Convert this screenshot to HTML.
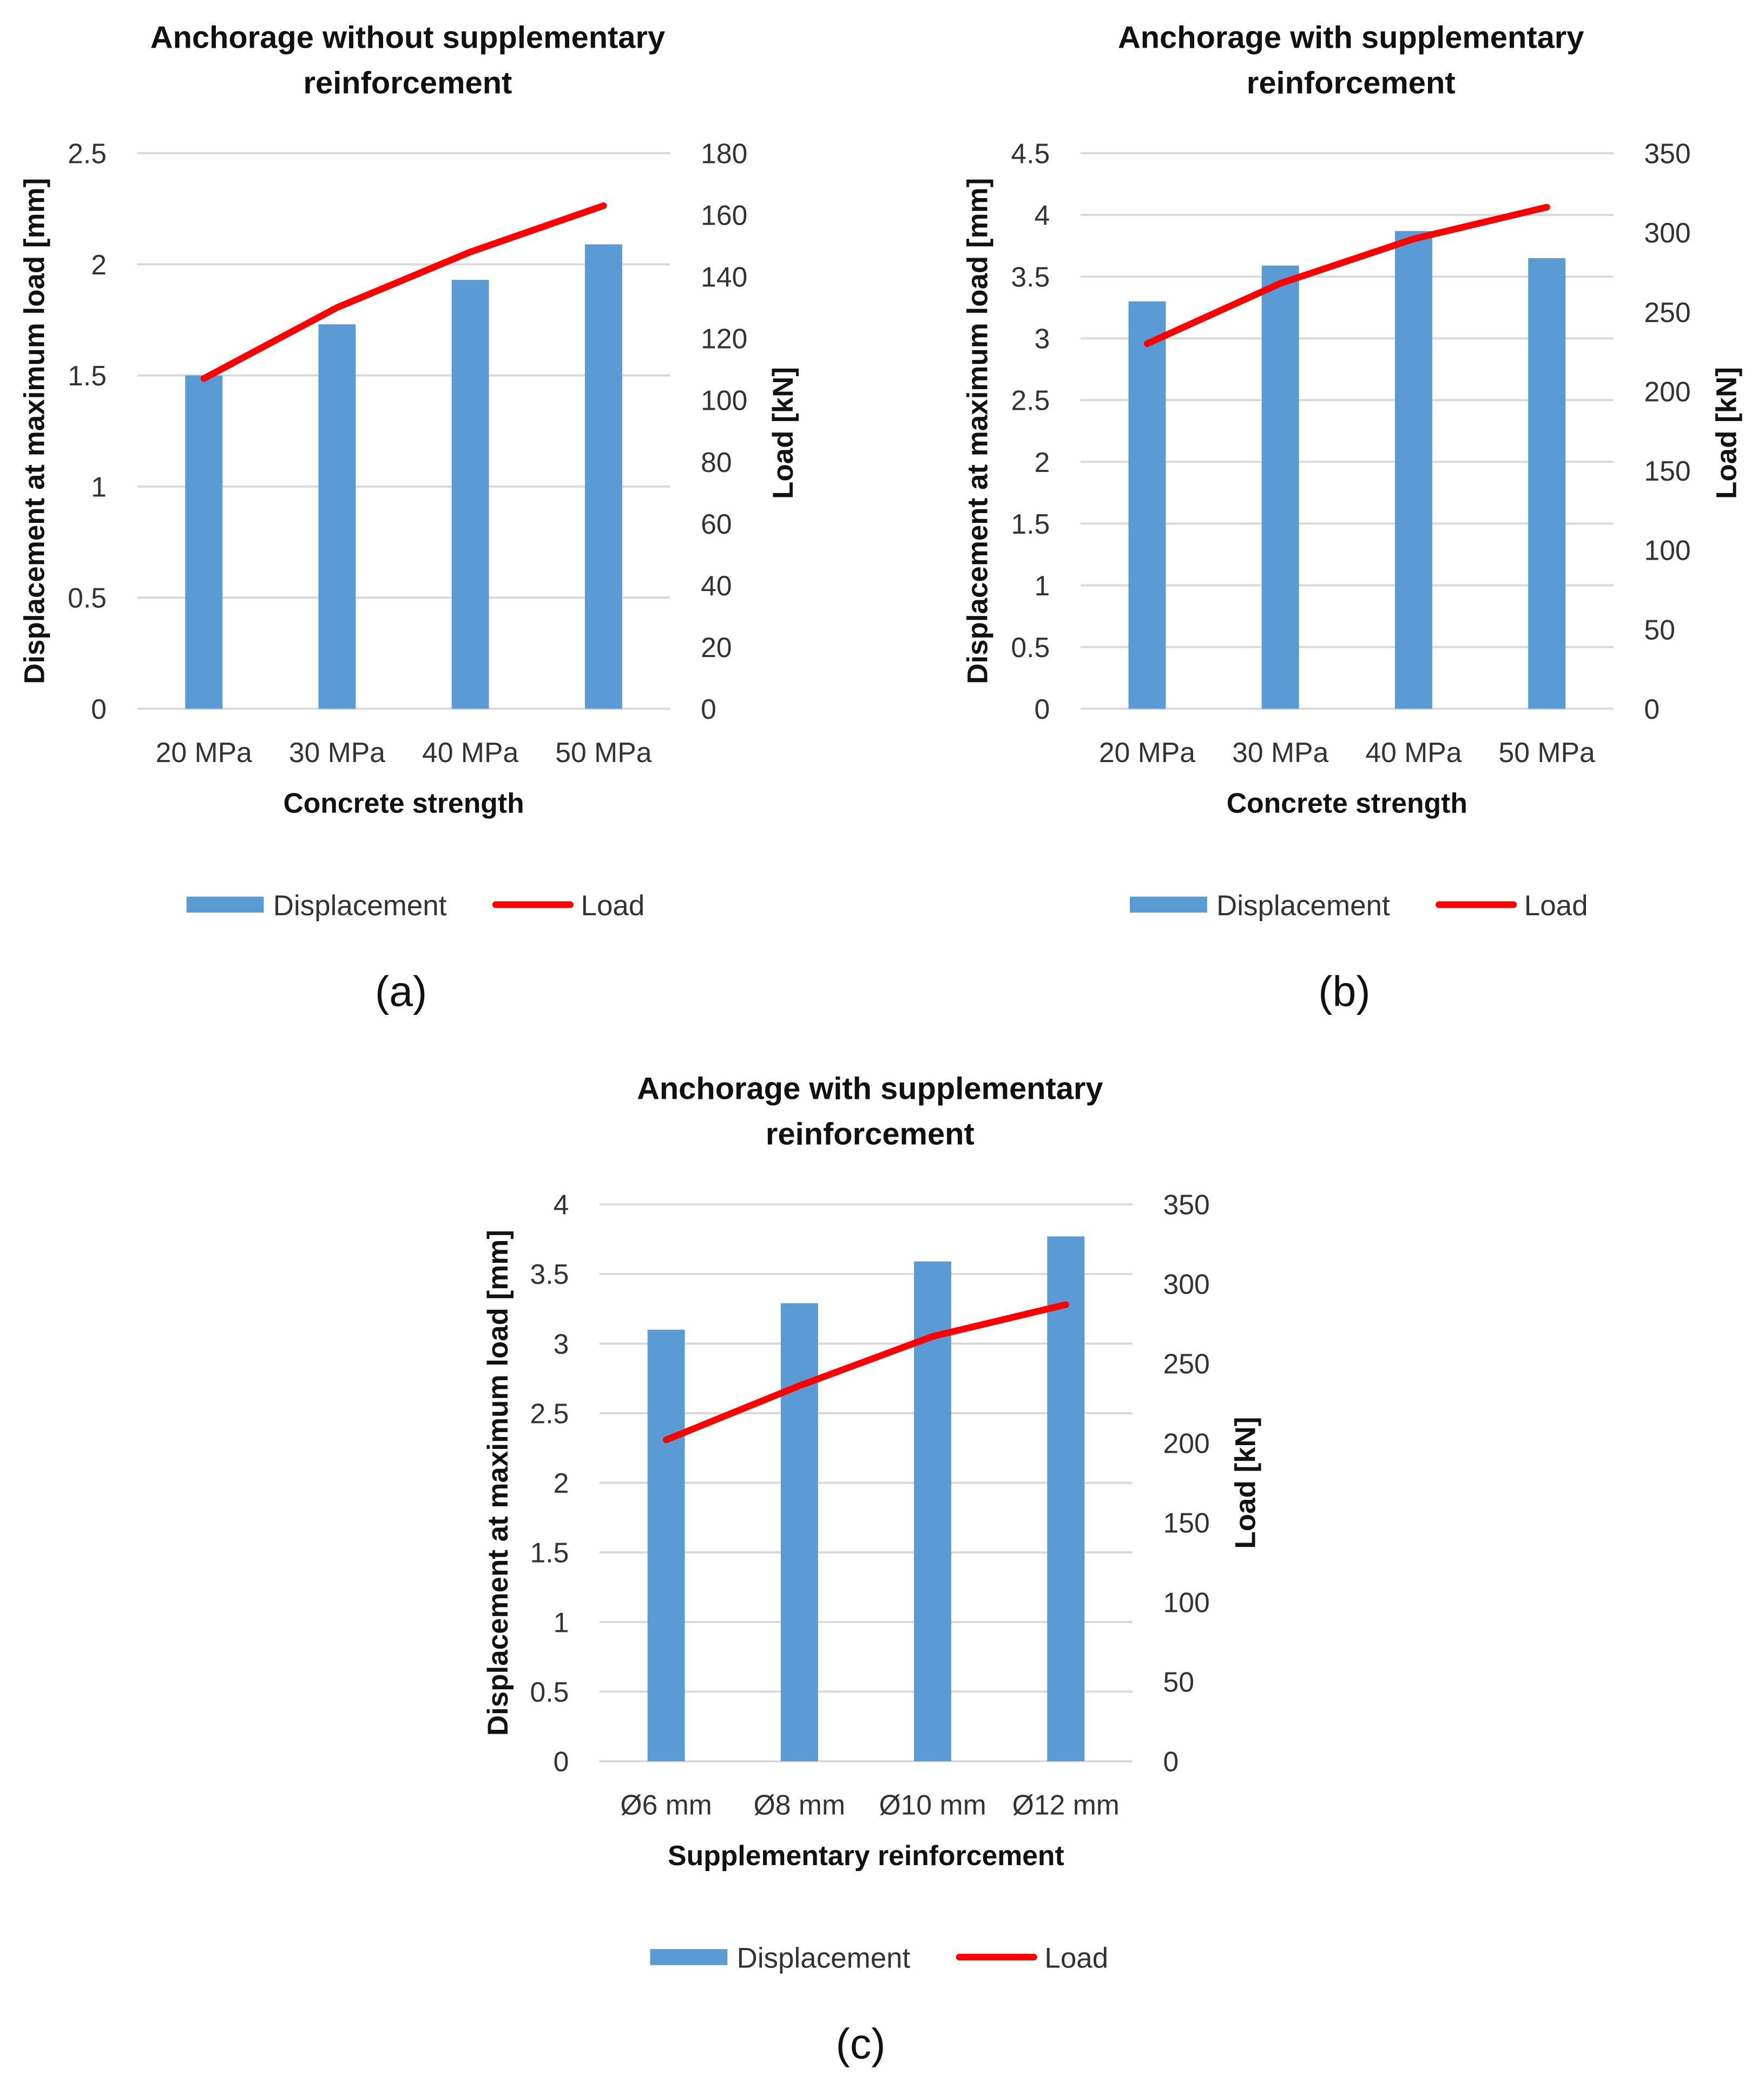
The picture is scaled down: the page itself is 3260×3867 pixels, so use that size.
<!DOCTYPE html>
<html><head><meta charset="utf-8"><style>
html,body{margin:0;padding:0;background:#fff}
svg{display:block}
text{font-family:"Liberation Sans",sans-serif}
</style></head><body>
<svg id="fig" width="3260" height="3867" viewBox="0 0 1324 1571" preserveAspectRatio="none" xmlns="http://www.w3.org/2000/svg"></svg>
<script>
// Chart (a)
const catsA = ["20 MPa","30 MPa","40 MPa","50 MPa"];
const dispA = [1.5, 1.73, 1.93, 2.09];
const loadA = [107, 130, 148, 163];
const leftTicksA = [0,0.5,1,1.5,2,2.5];
const rightTicksA = [0,20,40,60,80,100,120,140,160,180];
// Chart (b)
const catsB = ["20 MPa","30 MPa","40 MPa","50 MPa"];
const dispB = [3.3, 3.59, 3.87, 3.65];
const loadB = [230, 268, 296, 316];
const leftTicksB = [0,0.5,1,1.5,2,2.5,3,3.5,4,4.5];
const rightTicksB = [0,50,100,150,200,250,300,350];
// Chart (c)
const catsC = ["Ø6 mm","Ø8 mm","Ø10 mm","Ø12 mm"];
const dispC = [3.1, 3.29, 3.59, 3.77];
const loadC = [202, 236, 267, 287];
const leftTicksC = [0,0.5,1,1.5,2,2.5,3,3.5,4];
const rightTicksC = [0,50,100,150,200,250,300,350];

const NS = "http://www.w3.org/2000/svg";
const svg = document.getElementById('fig');
function mk(tag, attrs, parent, txt){
  const e = document.createElementNS(NS, tag);
  for (const k in attrs) e.setAttribute(k, attrs[k]);
  if (txt !== undefined) e.textContent = txt;
  (parent || svg).appendChild(e);
  return e;
}

function chart(id, o, cats, disp, load, lt, rt){
  const g = mk('g', {});
  
  
  const lmax = lt[lt.length-1], rmax = rt[rt.length-1];
  const yL = v => o.bottom - (v/lmax)*(o.bottom-o.top);
  const yR = v => o.bottom - (v/rmax)*(o.bottom-o.top);
  const step = (o.right-o.left)/cats.length;
  const xC = i => o.left + step*(i+0.5);
  o.title.forEach((t,i)=>{
    const e = mk('text',{x:o.tcx,y:o.ty+i*34,'text-anchor':'middle','font-size':23.5,'font-weight':'bold',fill:'#111'},g,t);
    
    
  });
  lt.forEach(v=>{
    const y = yL(v);
    const l = mk('line',{x1:o.left,x2:o.right,y1:y,y2:y,stroke:'#d9d9d9','stroke-width':1.6},g);
    
    
    const t = mk('text',{x:o.left-23,y:y+7.5,'text-anchor':'end','font-size':21,fill:'#333'},g,String(v));
    
    
  });
  rt.forEach(v=>{
    const t = mk('text',{x:o.right+23,y:yR(v)+7.5,'text-anchor':'start','font-size':21,fill:'#333'},g,String(v));
    
    
  });
  disp.forEach((v,i)=>{
    const b = mk('rect',{x:xC(i)-14,y:yL(v),width:28,height:o.bottom-yL(v),fill:'#5b9bd5'},g);
    
    
  });
  const pts = load.map((v,i)=>xC(i)+','+yR(v)).join(' ');
  const pl = mk('polyline',{points:pts,fill:'none',stroke:'#ff0000','stroke-width':5,'stroke-linecap':'round','stroke-linejoin':'round'},g);
  
  
  cats.forEach((c,i)=>{
    const t = mk('text',{x:xC(i),y:o.bottom+40,'text-anchor':'middle','font-size':21,fill:'#333'},g,c);
    
    
  });
  const xt = mk('text',{x:o.xtx,y:o.bottom+78,'text-anchor':'middle','font-size':21,'font-weight':'bold',fill:'#111'},g,o.xtitle);
  
  
  const yt = mk('text',{x:0,y:0,'text-anchor':'middle','font-size':21.5,'font-weight':'bold',fill:'#111',transform:`translate(${o.ytx},${(o.top+o.bottom)/2}) rotate(-90)`},g,'Displacement at maximum load [mm]');
  
  
  const rtt = mk('text',{x:0,y:0,'text-anchor':'middle','font-size':21.5,'font-weight':'bold',fill:'#111',transform:`translate(${o.rtx},${o.rty}) rotate(-90)`},g,'Load [kN]');
  
  
  const lg = mk('g',{},g);
  
  
  const sw = mk('rect',{x:o.lgx,y:o.lgy-6,width:58,height:12,fill:'#5b9bd5'},lg);
  
  
  const t1 = mk('text',{x:o.lgx+65,y:o.lgy+8,'font-size':21.5,fill:'#333'},lg,'Displacement');
  
  
  const ln = mk('line',{x1:o.lgx+232,x2:o.lgx+288,y1:o.lgy,y2:o.lgy,stroke:'#ff0000','stroke-width':5,'stroke-linecap':'round'},lg);
  
  
  const t2 = mk('text',{x:o.lgx+296,y:o.lgy+8,'font-size':21.5,fill:'#333'},lg,'Load');
  
  
  const cap = mk('text',{x:o.capx,y:o.capy,'text-anchor':'middle','font-size':32,fill:'#111','font-family':'Liberation Serif, serif'},g,o.cap);
  
  
}

chart('a',{left:103,right:503,top:115,bottom:532,title:['Anchorage without supplementary','reinforcement'],tcx:306,ty:36,xtitle:'Concrete strength',xtx:303,ytx:33,rtx:595,rty:325,lgx:140,lgy:679,cap:'(a)',capx:301,capy:755},catsA,dispA,loadA,leftTicksA,rightTicksA);
chart('b',{left:811,right:1211,top:115,bottom:532,title:['Anchorage with supplementary','reinforcement'],tcx:1014,ty:36,xtitle:'Concrete strength',xtx:1011,ytx:741,rtx:1303,rty:325,lgx:848,lgy:679,cap:'(b)',capx:1009,capy:755},catsB,dispB,loadB,leftTicksB,rightTicksB);
chart('c',{left:450,right:850,top:904,bottom:1322,title:['Anchorage with supplementary','reinforcement'],tcx:653,ty:825,xtitle:'Supplementary reinforcement',xtx:650,ytx:381,rtx:942,rty:1113,lgx:488,lgy:1469,cap:'(c)',capx:646,capy:1545},catsC,dispC,loadC,leftTicksC,rightTicksC);
</script>
</body></html>
